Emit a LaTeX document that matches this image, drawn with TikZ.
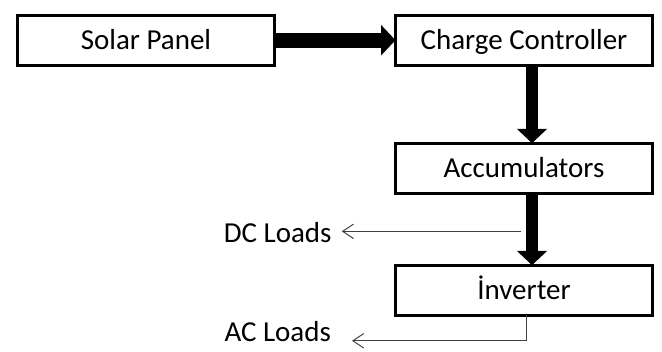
\documentclass[tikz,border=0pt]{standalone}
\usepackage{fontspec}
\setmainfont{Carlito}
\usetikzlibrary{positioning, calc, arrows.meta}

\begin{document}
\begin{tikzpicture}[
    BoxStyle/.style={draw, line width=2.1pt, minimum width=6.425cm, minimum height=1.25cm,
                outer sep=0pt, text height=13.3pt, text depth=0pt,
                font=\fontsize{20.6}{24}\selectfont},
    LoadStyle/.style={inner sep=0pt, text height=13.3pt, text depth=0pt,
                font=\fontsize{20.6}{24}\selectfont},
    BigArrow/.style={line width=#1, -{Triangle[width=0.74cm, length=0.36cm]}},
    ThinArrow/.style={draw=black!75, line width=0.7pt, -{Straight Barb[length=0.27cm, width=0.36cm]}},
  ]
\useasboundingbox (0,0) rectangle (16.55,8.775);

\node[BoxStyle] (solar) at (3.65,7.77) {Solar Panel};
\node[BoxStyle, right=3.025cm of solar] (charge) {Charge Controller};
\node[BoxStyle, below=1.95cm of charge] (accu) {Accumulators};
\node[BoxStyle, below=1.8cm of accu] (inv) {İnverter};

% power flow
\draw[BigArrow=0.375cm] (solar) -- (charge);
\draw[BigArrow=0.3cm] ([xshift=0.2cm]charge.south) -- ([xshift=0.2cm]accu.north);
\draw[BigArrow=0.3cm] ([xshift=0.2cm]accu.south) -- ([xshift=0.2cm]inv.north);

% loads
\coordinate (dcstart) at ($([xshift=-0.08cm]accu.south)!0.53!([xshift=-0.08cm]inv.north)$);
\coordinate[left=4.475cm of dcstart] (dcend);
\coordinate (acstart) at ([xshift=0.05cm]inv.south);
\coordinate[below=0.64cm of acstart] (accorner);
\coordinate[left=4.35cm of accorner] (acend);
\draw[ThinArrow] (dcstart) -- (dcend);
\draw[ThinArrow] (acstart) -- (accorner) -- (acend);

\node[LoadStyle, left=0.25cm of dcend, yshift=-0.05cm] (dc) {DC Loads};
\node[LoadStyle, left=0.52cm of acend, yshift=0.22cm] (ac) {AC Loads};
\end{tikzpicture}
\end{document}
